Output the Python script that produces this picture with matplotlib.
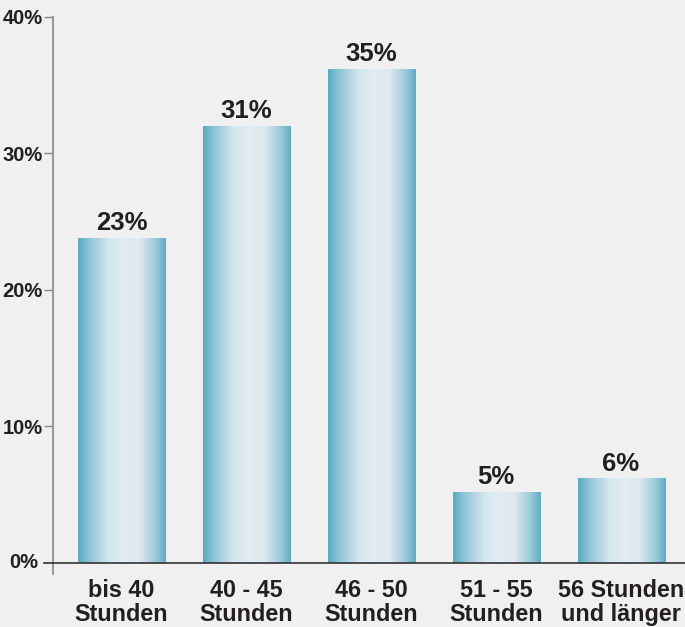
import numpy as np
import matplotlib
matplotlib.use("Agg")
import matplotlib.pyplot as plt
from matplotlib.colors import LinearSegmentedColormap
from matplotlib.lines import Line2D
import matplotlib.transforms as mtransforms

categories = ["bis 40\nStunden", "40 - 45\nStunden", "46 - 50\nStunden", "51 - 55\nStunden", "56 Stunden\nund länger"]
values = [23.8, 32.0, 36.2, 5.2, 6.2]
value_labels = ["23%", "31%", "35%", "5%", "6%"]
yticks = [10, 20, 30, 40]
ytick_labels = ["10%", "20%", "30%", "40%"]
zero_label = "0%"

FONT = ["Liberation Sans Narrow", "Liberation Sans", "DejaVu Sans"]
plt.rcParams["font.family"] = FONT
TXT = "#231f20"
BG = "#f0f0f0"

fig = plt.figure(figsize=(6.85, 6.27), dpi=100, facecolor=BG)
ax = fig.add_axes([53/685, 53/627, 632/685, 557/627], facecolor=BG)

x = np.arange(len(categories))
width = 0.697
bars = ax.bar(x, values, width=width, color="none", edgecolor="none", zorder=2)

cmap = LinearSegmentedColormap.from_list(
    "grad",
    [(0.0, "#58a9c4"), (0.12, "#8cc4d6"), (0.35, "#d2e6ee"), (0.5, "#e2ecf1"),
     (0.7, "#dde9ee"), (0.88, "#9ccbda"), (1.0, "#5eacc6")])
grad = np.linspace(0, 1, 256).reshape(1, -1)
for b in bars:
    x0, w, h = b.get_x(), b.get_width(), b.get_height()
    im = ax.imshow(grad, cmap=cmap, aspect="auto", extent=[x0, x0 + w, 0, h],
                   interpolation="bicubic", zorder=2)
    im.set_clip_path(b)

for xi, v, lab in zip(x, values, value_labels):
    ax.annotate(lab, (xi, v), xytext=(0, 2), textcoords="offset points",
                ha="center", va="bottom", fontsize=18.5, fontweight="bold", color=TXT)

ax.set_xlim(-0.548, 4.512)
ax.set_ylim(-0.806, 40)

ax.set_yticks(yticks)
ax.set_yticklabels(ytick_labels, fontsize=14.5, fontweight="bold", color=TXT)
ax.tick_params(axis="y", length=6.5, width=1, color="#888888", pad=1)

ax.set_xticks(x)
ax.set_xticklabels(categories, fontsize=16.8, fontweight="bold", color=TXT, linespacing=1.08)
ax.tick_params(axis="x", length=0, pad=3.5)
lbls = ax.get_xticklabels()
lbls[-1].set_x(4 - 0.02)

for s in ["top", "right", "bottom"]:
    ax.spines[s].set_visible(False)
ax.spines["left"].set_color("#888888")
ax.spines["left"].set_linewidth(1.2)

trans = mtransforms.blended_transform_factory(ax.transAxes, ax.transData)
ax.add_line(Line2D([-9/632, 1.0], [0, 0], transform=trans, color="#333333",
                   linewidth=1.2, clip_on=False, zorder=3))
ax.text(-15/632, 0, zero_label, transform=trans, ha="right", va="center",
        fontsize=14.5, fontweight="bold", color=TXT)

fig.savefig("out.png", dpi=100, facecolor=BG)
